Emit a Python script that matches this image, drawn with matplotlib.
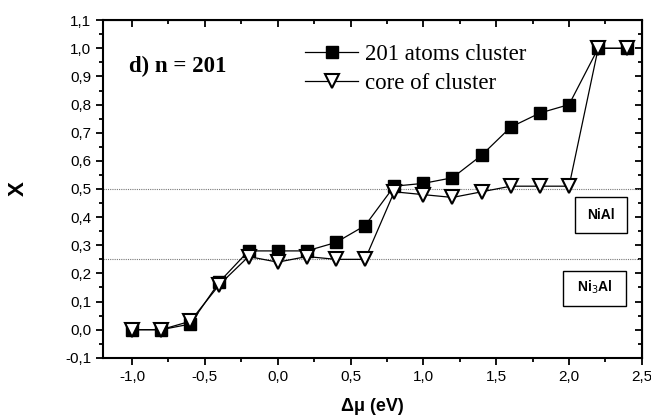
import matplotlib
matplotlib.use("Agg")
import matplotlib.pyplot as plt
from matplotlib.patches import Rectangle
from matplotlib.ticker import MultipleLocator, FuncFormatter

dmu = [-1.0, -0.8, -0.6, -0.4, -0.2, 0.0, 0.2, 0.4, 0.6, 0.8, 1.0, 1.2, 1.4, 1.6, 1.8, 2.0, 2.2, 2.4]
cluster = [0.0, 0.0, 0.02, 0.17, 0.28, 0.28, 0.28, 0.31, 0.37, 0.51, 0.52, 0.54, 0.62, 0.72, 0.77, 0.80, 1.0, 1.0]
core = [0.0, 0.0, 0.03, 0.16, 0.26, 0.24, 0.26, 0.25, 0.25, 0.49, 0.48, 0.47, 0.49, 0.51, 0.51, 0.51, 1.0, 1.0]
ref_levels = [0.5, 0.25]
phase_labels = ["NiAl", "Ni$_3$Al"]

fig = plt.figure(figsize=(6.51, 4.20), dpi=100)
ax = fig.add_axes([0.158, 0.148, 0.828, 0.804])

for lv in ref_levels:
    ax.axhline(lv, color="#777777", lw=0.8, ls=(0, (1, 1)), zorder=1)

ax.plot(dmu, cluster, color="black", lw=0.9, marker="s", ms=8.5, mfc="black", mec="black",
        label="201 atoms cluster", zorder=3)
ax.plot(dmu, core, color="black", lw=0.9, marker="v", ms=10, mfc="white", mec="black", mew=1.5,
        label="core of cluster", zorder=4)

ax.set_xlim(-1.2, 2.5)
ax.set_ylim(-0.1, 1.1)
ax.xaxis.set_major_locator(MultipleLocator(0.5))
ax.xaxis.set_minor_locator(MultipleLocator(0.25))
ax.yaxis.set_major_locator(MultipleLocator(0.1))
ax.yaxis.set_minor_locator(MultipleLocator(0.05))
fmt = FuncFormatter(lambda v, p: f"{v:.1f}".replace(".", ",").replace("-0,0", "0,0"))
ax.xaxis.set_major_formatter(fmt)
ax.yaxis.set_major_formatter(fmt)

for sp in ax.spines.values():
    sp.set_linewidth(1.5)

ax.tick_params(axis="both", which="both", direction="out", width=1.3, labelsize=11)
ax.tick_params(which="major", length=5)
ax.tick_params(which="minor", length=3)
for lab in ax.get_xticklabels() + ax.get_yticklabels():
    lab.set_fontfamily("Liberation Sans")

ax2 = ax.secondary_xaxis("top")
ax2.xaxis.set_major_locator(MultipleLocator(0.5))
ax2.xaxis.set_minor_locator(MultipleLocator(0.25))
ax2.tick_params(which="both", direction="in", labeltop=False, width=1.3)
ax2.tick_params(which="major", length=5)
ax2.tick_params(which="minor", length=3)
ax3 = ax.secondary_yaxis("right")
ax3.yaxis.set_major_locator(MultipleLocator(0.1))
ax3.yaxis.set_minor_locator(MultipleLocator(0.05))
ax3.tick_params(which="both", direction="in", labelright=False, width=1.3)
ax3.tick_params(which="major", length=5)
ax3.tick_params(which="minor", length=3)

ax.set_xlabel("Δμ (eV)", fontsize=13, fontweight="bold", family="Liberation Sans", labelpad=10)
ax.set_ylabel("X", fontsize=16, fontweight="bold", family="Liberation Sans", labelpad=26)

ax.text(-1.02, 0.935, "d) n = 201", fontsize=16.5, fontweight="bold", family="Liberation Serif",
        va="center", ha="left")

leg = ax.legend(loc="upper left", bbox_to_anchor=(0.35, 0.97), frameon=False,
                prop={"family": "Liberation Serif", "size": 16.5}, handlelength=2.3,
                handletextpad=0.3, labelspacing=0.35, borderaxespad=0.2)

# phase label boxes
ax.add_patch(Rectangle((2.04, 0.344), 0.357, 0.128, fc="white", ec="black", lw=1.0, zorder=5))
ax.text(2.2185, 0.408, phase_labels[0], fontsize=10, fontweight="bold", family="Liberation Sans",
        ha="center", va="center", zorder=6)
ax.add_patch(Rectangle((1.957, 0.085), 0.434, 0.124, fc="white", ec="black", lw=1.0, zorder=5))
ax.text(2.174, 0.150, phase_labels[1], fontsize=10, fontweight="bold", family="Liberation Sans",
        ha="center", va="center", zorder=6)

fig.savefig("out.png", dpi=100)
